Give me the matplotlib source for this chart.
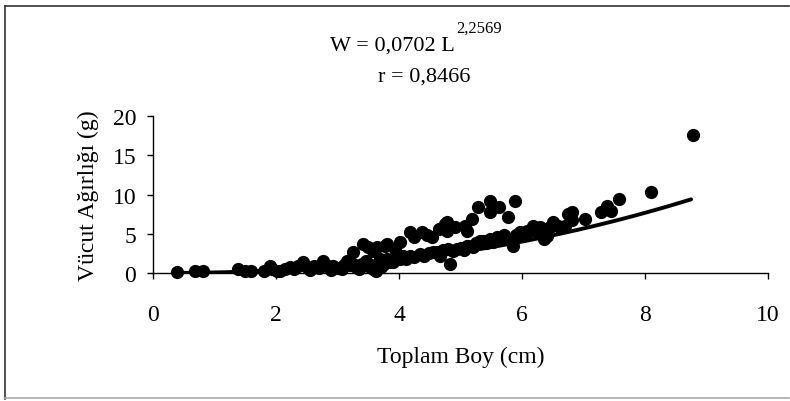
import numpy as np
import matplotlib
matplotlib.use("Agg")
import matplotlib.pyplot as plt
from matplotlib.lines import Line2D

# ---- data ----
boy_alt = [0.39, 0.68, 0.82, 1.39, 1.50, 1.60, 1.80, 1.90, 1.93, 2.01, 2.07, 2.15, 2.23, 2.30,
           2.35, 2.44, 2.50, 2.55, 2.61, 2.70, 2.77, 2.85, 2.90, 2.93, 3.00, 3.07, 3.10, 3.15,
           3.20, 3.26, 3.30, 3.35, 3.40, 3.47, 3.50, 3.55, 3.58, 3.62, 3.69, 3.70, 3.75, 3.80,
           3.85, 3.91, 3.96, 4.02, 4.07, 4.12, 4.18, 4.25, 4.34, 4.40, 4.48, 4.56, 4.61, 4.67,
           4.72, 4.80, 4.83, 4.88, 4.94, 5.00, 5.05, 5.10, 5.13, 5.20, 5.25, 5.32, 5.37, 5.42,
           5.48, 5.53, 5.59, 5.65, 5.70, 5.80, 5.85, 5.90, 5.97, 6.02, 6.08, 6.13, 6.18, 6.25,
           6.29, 6.35, 6.40, 6.45, 6.51, 6.58, 6.62, 6.70, 6.75, 6.81, 6.81, 7.02, 7.29, 7.38,
           7.45, 7.58, 8.09, 8.78]
agirlik_alt = [0.10, 0.30, 0.30, 0.51, 0.30, 0.25, 0.30, 0.93, 0.51, 0.30, 0.30, 0.55, 0.72, 0.50,
               0.90, 1.36, 0.80, 0.40, 0.93, 0.60, 1.57, 0.90, 0.40, 0.93, 0.70, 0.51, 1.00, 1.57,
               1.00, 1.15, 0.80, 0.50, 1.20, 1.57, 0.90, 1.00, 0.51, 0.30, 1.78, 0.80, 1.20, 1.78,
               1.40, 1.36, 1.90, 1.78, 2.20, 1.80, 2.20, 2.00, 2.42, 2.20, 2.50, 2.64, 2.64, 2.20,
               2.90, 3.06, 1.15, 2.80, 3.06, 3.20, 2.90, 3.48, 3.48, 3.30, 3.80, 4.11, 4.11, 3.80,
               4.33, 4.00, 4.54, 4.30, 4.80, 4.33, 3.48, 4.90, 5.18, 4.70, 5.40, 5.39, 6.03, 5.20,
               5.82, 4.33, 4.76, 5.90, 6.46, 6.00, 5.82, 6.00, 7.52, 7.73, 6.69, 6.88, 7.73, 8.59,
               7.90, 9.43, 10.36, 17.60]

boy_ust = [3.26, 3.42, 3.50, 3.58, 3.64, 3.77, 3.80, 3.93, 4.02, 4.18, 4.25, 4.37, 4.45, 4.53,
           4.65, 4.75, 4.78, 4.78, 4.91, 5.07, 5.10, 5.18, 5.29, 5.48, 5.48, 5.63, 5.78, 5.89]
agirlik_ust = [2.64, 3.69, 3.30, 2.84, 3.27, 3.48, 3.69, 3.06, 3.91, 5.18, 4.60, 5.18, 4.80, 4.54,
               5.60, 6.24, 6.46, 5.39, 5.82, 6.03, 5.39, 6.88, 8.37, 9.21, 7.73, 8.37, 7.09, 9.13]

# fitted model W = a L^b (coefficients printed on the chart)
fit_a = 0.0702
fit_b = 2.2569
fit_range = [0.4, 8.75]

x_ticks = [0, 2, 4, 6, 8, 10]
y_ticks = [0, 5, 10, 15, 20]

plt.rcParams['font.family'] = ['Liberation Serif', 'DejaVu Serif']

W, H = 790, 402
fig = plt.figure(figsize=(W / 100, H / 100), dpi=100)

def fx(px):
    return px / W

def fy(py):
    return 1 - py / H

ax = fig.add_axes([fx(153), fy(274), (768 - 153) / W, (274 - 117) / H])

xs = np.concatenate([boy_alt, boy_ust])
ys = np.concatenate([agirlik_alt, agirlik_ust])
ax.plot(xs, ys, linestyle='none', marker='o', ms=8.5, color='black', mec='black', zorder=3,
        clip_on=False)

L = np.linspace(fit_range[0], fit_range[1], 200)
ax.plot(L, fit_a * L ** fit_b, color='black', lw=2.8, solid_capstyle='round', zorder=2)

ax.set_xlim(0, 10)
ax.set_ylim(0, 20)
ax.set_xticks(x_ticks)
ax.set_yticks(y_ticks)
ax.spines['top'].set_visible(False)
ax.spines['right'].set_visible(False)
for s in ('left', 'bottom'):
    ax.spines[s].set_linewidth(1.0)
ax.tick_params(direction='out', length=4, width=1.0, labelsize=17, colors='black')
ax.tick_params(axis='x', pad=18)
ax.tick_params(axis='y', pad=8)

ax.set_xlabel('Toplam Boy (cm)', fontsize=17, labelpad=15)
ax.set_ylabel('Vücut Ağırlığı (g)', fontsize=17, labelpad=10)

# equation text
fig.text(fx(455), fy(46), 'W = 0,0702 L', fontsize=16, ha='right', va='center')
fig.text(fx(456), fy(29), '2,2569', fontsize=12, ha='left', va='center')
fig.text(fx(424), fy(77), 'r = 0,8466', fontsize=16, ha='center', va='center')

# figure frame
fig.add_artist(Line2D([fx(5), fx(5)], [fy(7), fy(400)], color='#333333', lw=1.2))
fig.add_artist(Line2D([fx(5), fx(789)], [fy(7), fy(7)], color='#333333', lw=1.2))
fig.add_artist(Line2D([fx(5), fx(789)], [fy(399), fy(399)], color='#aaaaaa', lw=1.2))

fig.savefig('out.png', dpi=100)
